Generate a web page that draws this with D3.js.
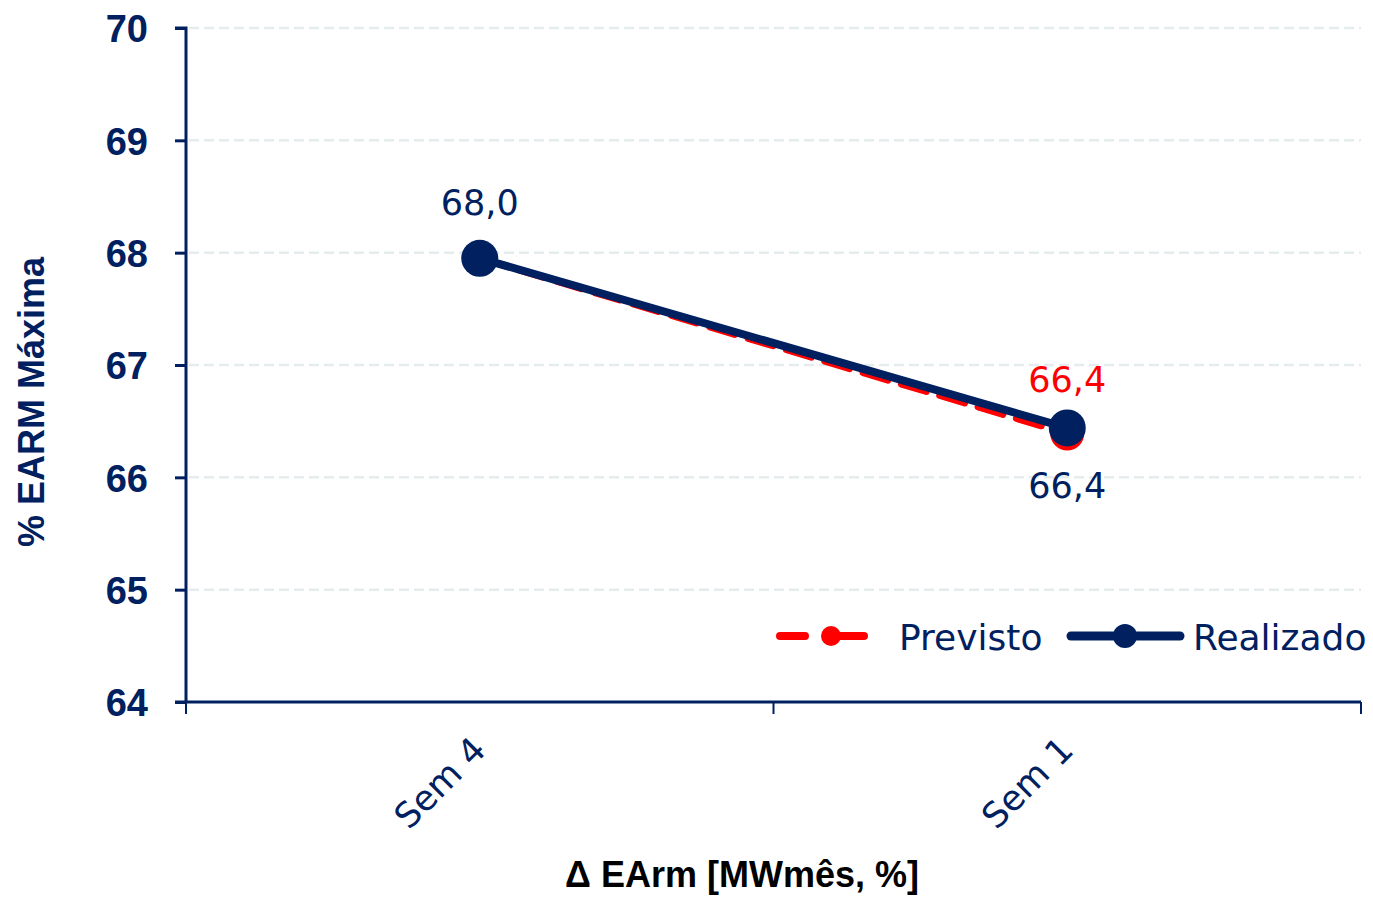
<!DOCTYPE html>
<html><head><meta charset="utf-8">
<script src="https://cdn.jsdelivr.net/npm/d3@7"></script>
<style>body{margin:0;background:#fff}svg{display:block}</style>
</head><body>
<svg id="c" width="1373" height="898"></svg>
<script>
const categories = ["Sem 4", "Sem 1"];
const previsto = [67.95, 66.39];
const realizado = [67.95, 66.44];
const previstoLabels = ["", "66,4"];
const realizadoLabels = ["68,0", "66,4"];
const yTicks = [64, 65, 66, 67, 68, 69, 70];
const seriesNames = ["Previsto", "Realizado"];

(function () {
const NAVY = "#002060", RED = "#FF0000";
const svg = d3.select("#c");
const pLeft = 186, pRight = 1361, pTop = 28, pBottom = 702;
const x = d3.scaleBand().domain(categories).range([pLeft, pRight]).padding(0);
const y = d3.scaleLinear().domain([64, 70]).range([pBottom, pTop]);
const cx = d => x(d) + x.bandwidth() / 2;

// gridlines
svg.append("g").selectAll("line").data(yTicks.filter(t => t > 64)).join("line")
  .attr("x1", pLeft + 3).attr("x2", pRight).attr("y1", d => y(d)).attr("y2", d => y(d))
  .attr("stroke", "#E4ECED").attr("stroke-width", 2.5).attr("stroke-dasharray", "10,5");

// y axis
const ya = svg.append("g").attr("transform", `translate(${pLeft},0)`)
  .call(d3.axisLeft(y).tickValues(yTicks).tickSize(11).tickPadding(27).tickFormat(d3.format("d")));
ya.select(".domain").attr("stroke", NAVY).attr("stroke-width", 3).attr("d", `M-11,${pTop}H0V${pBottom}`);
ya.selectAll(".tick line").attr("stroke", NAVY).attr("stroke-width", 3);
ya.selectAll(".tick text").attr("fill", NAVY).attr("font-family", "Liberation Sans, Arial, sans-serif")
  .attr("font-weight", "bold").attr("font-size", 38).attr("dy", "0.36em");

// x axis
const xa = svg.append("g").attr("transform", `translate(0,${pBottom})`)
  .call(d3.axisBottom(x).tickSize(0).tickFormat(""));
xa.select(".domain").attr("stroke", NAVY).attr("stroke-width", 3).attr("d", `M${pLeft - 11},0H${pRight}`);
const bounds = [pLeft, x(categories[1]), pRight];
xa.selectAll(".bt").data(bounds).join("line").attr("class", "bt")
  .attr("x1", d => d).attr("x2", d => d).attr("y1", 0).attr("y2", 12)
  .attr("stroke", NAVY).attr("stroke-width", 2);
xa.selectAll(".xl").data(categories).join("text").attr("class", "xl")
  .attr("transform", d => `translate(${cx(d) + 8},${50}) rotate(-45)`)
  .attr("text-anchor", "end").attr("fill", NAVY)
  .attr("font-family", "DejaVu Sans, Verdana, sans-serif").attr("font-size", 35)
  .text(d => d);

// axis titles
svg.append("text").attr("x", 742).attr("y", 887).attr("text-anchor", "middle")
  .attr("fill", "#000").attr("font-family", "Liberation Sans, Arial, sans-serif")
  .attr("font-weight", "bold").attr("font-size", 36).text("Δ EArm [MWmês, %]");
svg.append("text").attr("transform", "translate(44,402) rotate(-90)").attr("text-anchor", "middle")
  .attr("fill", NAVY).attr("font-family", "Liberation Sans, Arial, sans-serif")
  .attr("font-weight", "bold").attr("font-size", 36).text("% EARM Máxima");

// lines
const line = d3.line().x((d, i) => cx(categories[i])).y(d => y(d));
svg.append("path").datum(previsto).attr("d", line).attr("fill", "none")
  .attr("stroke", RED).attr("stroke-width", 7).attr("stroke-dasharray", "26,14").attr("stroke-linecap", "round");
svg.append("g").selectAll("circle").data(previsto).join("circle")
  .attr("cx", (d, i) => cx(categories[i])).attr("cy", d => y(d)).attr("r", 17).attr("fill", RED);
svg.append("path").datum(realizado).attr("d", line).attr("fill", "none")
  .attr("stroke", NAVY).attr("stroke-width", 8);
svg.append("g").selectAll("circle").data(realizado).join("circle")
  .attr("cx", (d, i) => cx(categories[i])).attr("cy", d => y(d)).attr("r", 18.5).attr("fill", NAVY);

// data labels
const lblFont = "DejaVu Sans, Verdana, sans-serif";
svg.append("g").selectAll("text").data(previsto).join("text")
  .attr("x", (d, i) => cx(categories[i])).attr("y", d => y(d) - 42)
  .attr("text-anchor", "middle").attr("fill", RED).attr("font-family", lblFont).attr("font-size", 35)
  .text((d, i) => previstoLabels[i]);
svg.append("g").selectAll("text").data(realizado).join("text")
  .attr("x", (d, i) => cx(categories[i])).attr("y", (d, i) => i === 0 ? y(d) - 43 : y(d) + 70)
  .attr("text-anchor", "middle").attr("fill", NAVY).attr("font-family", lblFont).attr("font-size", 35)
  .text((d, i) => realizadoLabels[i]);

// legend
const lg = svg.append("g");
lg.append("line").attr("x1", 780).attr("x2", 805).attr("y1", 636).attr("y2", 636)
  .attr("stroke", RED).attr("stroke-width", 8).attr("stroke-linecap", "round");
lg.append("line").attr("x1", 830).attr("x2", 864).attr("y1", 636).attr("y2", 636)
  .attr("stroke", RED).attr("stroke-width", 8).attr("stroke-linecap", "round");
lg.append("circle").attr("cx", 831).attr("cy", 636).attr("r", 10).attr("fill", RED);
lg.append("text").attr("x", 899).attr("y", 650).attr("fill", NAVY).attr("font-family", lblFont)
  .attr("font-size", 36).text(seriesNames[0]);
lg.append("line").attr("x1", 1071).attr("x2", 1180).attr("y1", 636).attr("y2", 636)
  .attr("stroke", NAVY).attr("stroke-width", 9).attr("stroke-linecap", "round");
lg.append("circle").attr("cx", 1125).attr("cy", 636).attr("r", 12).attr("fill", NAVY);
lg.append("text").attr("x", 1193).attr("y", 650).attr("fill", NAVY).attr("font-family", lblFont)
  .attr("font-size", 36).text(seriesNames[1]);
})();
</script>
</body></html>
